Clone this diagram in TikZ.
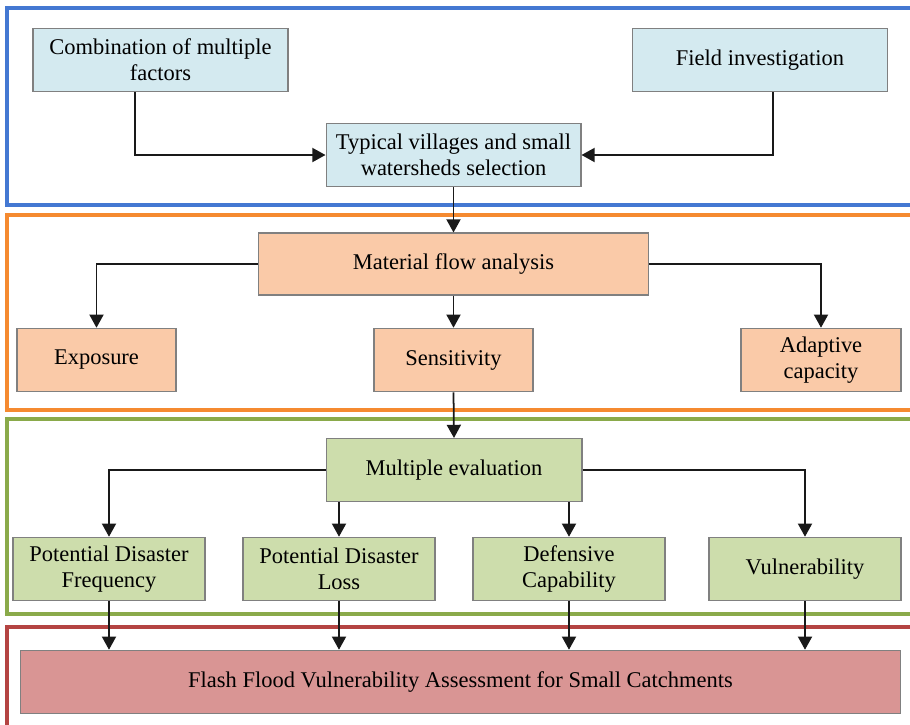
\documentclass[tikz,border=0pt]{standalone}
\usepackage{fontspec}
\setmainfont{Liberation Serif}
\definecolor{selblue}{RGB}{212, 234, 240}
\definecolor{flowora}{RGB}{250, 202, 168}
\definecolor{evalgrn}{RGB}{205, 221, 172}
\definecolor{resred}{RGB}{217, 149, 148}
\definecolor{frblue}{RGB}{68, 120, 210}
\definecolor{frora}{RGB}{245, 138, 48}
\definecolor{frgrn}{RGB}{138, 170, 74}
\definecolor{frred}{RGB}{180, 68, 66}
\usetikzlibrary{arrows.meta, positioning, calc}

\begin{document}
\begin{tikzpicture}[x=0.02cm, y=-0.02cm,
  box/.style={draw=black!50, line width=0.6pt, inner sep=2pt, align=center,
    font=\fontsize{12.8}{14.7}\selectfont, minimum height=1.27cm},
  frame/.style={line width=1.8pt},
  arr/.style={-{Triangle[length=7.5pt, width=8pt]}, line width=1pt, black!90}
]
  \useasboundingbox (0,0) rectangle (910,724);
  \clip (0,0) rectangle (910,724);

  % stage frames
  \draw[frame, frblue] (7,8) rectangle (940,205);
  \draw[frame, frora] (7,215) rectangle (940,410);
  \draw[frame, frgrn] (7,419) rectangle (940,614);
  \draw[frame, frred] (7,627) rectangle (940,760);

  % selection
  \node[box, fill=selblue, minimum width=5.1cm] (comb) at (160.5, 60) {Combination of multiple\\factors};
  \node[box, fill=selblue, minimum width=5.1cm] (field) at (760, 60) {Field investigation};
  \node[box, fill=selblue, minimum width=5.1cm] (typ) at (453.5, 155) {Typical villages and small\\watersheds selection};

  % material flow
  \node[box, fill=flowora, minimum width=7.8cm, minimum height=1.24cm] (mfa) at (453.5, 264) {Material flow analysis};
  \node[box, fill=flowora, minimum width=3.18cm] (expo) at (96.5, 360) {Exposure};
  \node[box, fill=flowora, minimum width=3.18cm] (sens) at (453.5, 360) {Sensitivity};
  \node[box, fill=flowora, minimum width=3.2cm] (adap) at (821, 360) {Adaptive\\capacity};

  % evaluation
  \node[box, fill=evalgrn, minimum width=5.12cm, minimum height=1.26cm] (multi) at (454, 470) {Multiple evaluation};
  \node[box, fill=evalgrn, minimum width=3.84cm] (freq) at (109, 569) {Potential Disaster\\Frequency};
  \node[box, fill=evalgrn, minimum width=3.84cm] (loss) at (339, 569) {Potential Disaster\\Loss};
  \node[box, fill=evalgrn, minimum width=3.84cm] (def) at (569, 569) {Defensive\\Capability};
  \node[box, fill=evalgrn, minimum width=3.84cm] (vuln) at (805, 569) {Vulnerability};

  \node[box, fill=resred, minimum width=17.62cm] (ffva) at (460.5, 682) {Flash Flood Vulnerability Assessment for Small Catchments};

  \draw[arr] ([xshift=-0.51cm]comb.south) |- (typ.west);
  \draw[arr] ([xshift=0.26cm]field.south) |- (typ.east);
  \draw[arr] (typ.south) -- (mfa.north);
  \draw[arr] (mfa.west) -| (expo.north);
  \draw[arr] (mfa.south) -- (sens.north);
  \draw[arr] (mfa.east) -| (adap.north);
  \draw[arr] (sens.south) -- (multi.north);
  \draw[arr] (multi.west) -| (freq.north);
  \draw[arr] (multi.south -| loss.north) -- (loss.north);
  \draw[arr] (multi.south -| def.north) -- (def.north);
  \draw[arr] (multi.east) -| (vuln.north);
  \foreach \n in {freq, loss, def, vuln}
    \draw[arr] (\n.south) -- (ffva.north -| \n.south);
\end{tikzpicture}
\end{document}
